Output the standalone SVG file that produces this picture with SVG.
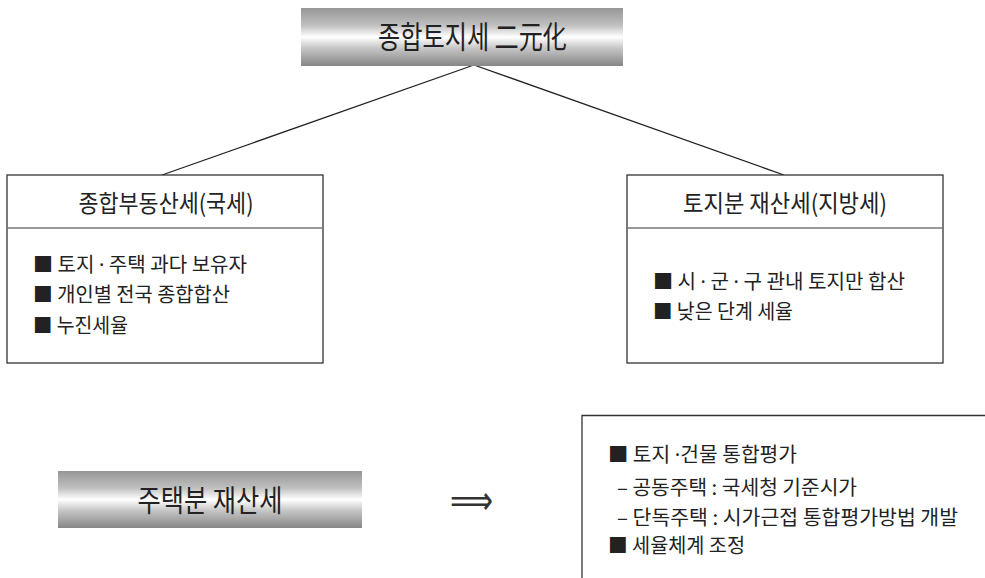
<svg xmlns="http://www.w3.org/2000/svg" width="985" height="578" viewBox="0 0 985 578">
  <defs>
    <linearGradient id="metal" x1="0" y1="0" x2="0" y2="1">
      <stop offset="0" stop-color="#969696"/>
      <stop offset="0.3" stop-color="#c0c0c0"/>
      <stop offset="0.5" stop-color="#ffffff"/>
      <stop offset="0.7" stop-color="#c4c4c4"/>
      <stop offset="1" stop-color="#868686"/>
    </linearGradient>
  </defs>
  <style>
    text { font-family: "Noto Sans CJK KR", "Noto Sans", sans-serif; fill: #222; }
    .banner { font-size: 31px; text-anchor: middle; }
    .head { font-size: 24px; text-anchor: middle; }
    .item { font-size: 20px; }
    .dot { font-family: "Noto Sans", sans-serif; }
    .box { fill: #fff; stroke: #333; stroke-width: 1.3; }
    .div { stroke: #777; stroke-width: 1.5; fill: none; }
    .conn { stroke: #222; stroke-width: 1.3; fill: none; }
    .arrow { font-family: "DejaVu Sans", sans-serif; font-size: 40px; fill: #333; }
  </style>

  <g id="connectors">
    <line class="conn" x1="474" y1="65" x2="162" y2="175"/>
    <line class="conn" x1="474" y1="65" x2="784" y2="175"/>
  </g>

  <g id="top-banner">
    <rect x="301" y="8" width="322" height="58" fill="url(#metal)"/>
    <text class="banner" x="472.5" y="48" textLength="189" lengthAdjust="spacingAndGlyphs">종합토지세 二元化</text>
  </g>

  <g id="left-box">
    <rect class="box" x="7" y="175" width="316" height="188"/>
    <line class="div" x1="7" y1="228" x2="323" y2="228"/>
    <text class="head" x="166" y="212" textLength="175" lengthAdjust="spacingAndGlyphs">종합부동산세(국세)</text>
    <text class="item" x="33" y="272" textLength="214" lengthAdjust="spacingAndGlyphs">■ 토지 <tspan class="dot">·</tspan> 주택 과다 보유자</text>
    <text class="item" x="33" y="302" textLength="197" lengthAdjust="spacingAndGlyphs">■ 개인별 전국 종합합산</text>
    <text class="item" x="33" y="333" textLength="95" lengthAdjust="spacingAndGlyphs">■ 누진세율</text>
  </g>

  <g id="right-box">
    <rect class="box" x="627" y="175" width="316" height="188"/>
    <line class="div" x1="627" y1="228" x2="943" y2="228"/>
    <text class="head" x="785" y="212" textLength="204" lengthAdjust="spacingAndGlyphs">토지분 재산세(지방세)</text>
    <text class="item" x="653" y="289" textLength="252" lengthAdjust="spacingAndGlyphs">■ 시 <tspan class="dot">·</tspan> 군 <tspan class="dot">·</tspan> 구 관내 토지만 합산</text>
    <text class="item" x="653" y="319" textLength="140" lengthAdjust="spacingAndGlyphs">■ 낮은 단계 세율</text>
  </g>

  <g id="bottom-banner">
    <rect x="58" y="471" width="304" height="57" fill="url(#metal)"/>
    <text class="banner" x="210" y="511" style="font-size:30px" textLength="145" lengthAdjust="spacingAndGlyphs">주택분 재산세</text>
  </g>

  <g id="implies">
    <text class="arrow" x="450" y="514" textLength="43" lengthAdjust="spacingAndGlyphs">⟹</text>
  </g>

  <g id="bottom-right-box">
    <polyline class="box" points="582,578 582,415.5 985,415.5" fill="none"/>
    <text class="item" x="608" y="462" textLength="189" lengthAdjust="spacingAndGlyphs">■ 토지 <tspan class="dot">·</tspan>건물 통합평가</text>
    <text class="item" x="617" y="495" textLength="240" lengthAdjust="spacingAndGlyphs">– 공동주택 : 국세청 기준시가</text>
    <text class="item" x="617" y="525" textLength="341" lengthAdjust="spacingAndGlyphs">– 단독주택 : 시가근접 통합평가방법 개발</text>
    <text class="item" x="608" y="553" textLength="137" lengthAdjust="spacingAndGlyphs">■ 세율체계 조정</text>
  </g>
</svg>
